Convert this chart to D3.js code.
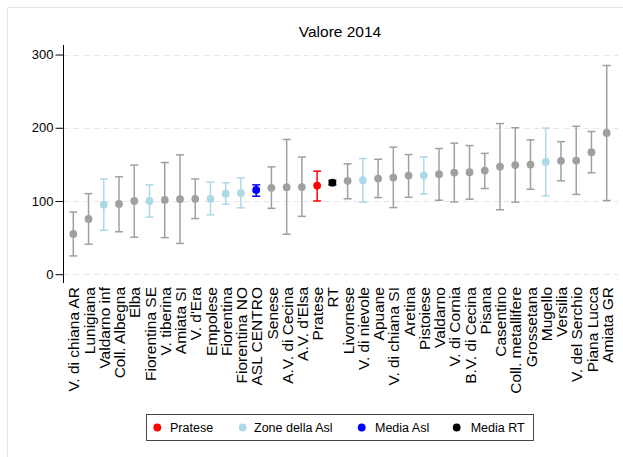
<!DOCTYPE html>
<html>
<head>
<meta charset="utf-8">
<script src="https://cdn.jsdelivr.net/npm/d3@7"></script>
<style>
  html, body { margin: 0; padding: 0; background: #fff; }
  svg { display: block; font-family: "Liberation Sans", Arial, sans-serif; }
</style>
</head>
<body>
<svg id="chart" width="623" height="457"></svg>
<script>
const categories = ["V. di chiana AR","Lunigiana","Valdarno inf","Coll. Albegna","Elba","Fiorentina SE","V. tiberina","Amiata SI","V. d'Era","Empolese","Fiorentina","Fiorentina NO","ASL CENTRO","Senese","A.V. di Cecina","A.V. d'Elsa","Pratese","RT","Livornese","V. di nievole","Apuane","V. di chiana SI","Aretina","Pistoiese","Valdarno","V. di Cornia","B.V. di Cecina","Pisana","Casentino","Coll. metallifere","Grossetana","Mugello","Versilia","V. del Serchio","Piana Lucca","Amiata GR"];
const values = [55,75.5,95,96,100,100,101.5,102.5,103,103,110,111,115,118,118.8,119,121,125,127.5,128.4,130.6,132,134.7,134.7,136.6,138.8,139.3,141.5,147,149,149.7,153.4,154.8,155.2,166.7,193];
const lower  = [25,41,60,58,50.5,78,50,42,76,81,95.6,90.6,106.5,90,54.6,79,100,122,103,98.4,104.6,91,105,109.7,101,98.8,102.4,117,88,98.4,116,107,127.5,109,138.4,100.6];
const upper  = [85,110,130,133,149,122,152.5,163,130,125.7,125,131.5,122,146.6,184,160,140.7,128,150.7,158,157,173.5,163.4,160,171.6,179,175.7,165,205.7,200,183.5,199.5,181,202,194.8,285];
const groups = ["zona","zona","asl","zona","zona","asl","zona","zona","zona","asl","asl","asl","mediaAsl","zona","zona","zona","pratese","rt","zona","asl","zona","zona","zona","asl","zona","zona","zona","zona","zona","zona","zona","asl","zona","zona","zona","zona"];
const yTicks = [0,100,200,300];
const legendKeys = ["pratese","asl","mediaAsl","rt"];
const legendLabels = ["Pratese","Zone della Asl","Media Asl","Media RT"];
const title = "Valore 2014";

const colors = {zona:"#a0a0a0", asl:"#add8e6", mediaAsl:"#0000ff", pratese:"#ff0000", rt:"#000000"};

const svg = d3.select("#chart");

// faint outer frame
svg.append("rect").attr("x",7.5).attr("y",7.5).attr("width",640).attr("height",480)
  .attr("fill","none").attr("stroke","#dfe9e9").attr("stroke-width",1);

const x = d3.scalePoint().domain(categories).range([73.3, 606.7]);
const y = d3.scaleLinear().domain([-12, 313]).range([283, 45]);

// gridlines
svg.append("g").selectAll("line").data(yTicks).join("line")
  .attr("x1",63.5).attr("x2",618).attr("y1",d=>Math.round(y(d))+0.5).attr("y2",d=>Math.round(y(d))+0.5)
  .attr("stroke","#e6e6e6").attr("stroke-width",1).attr("stroke-dasharray","6,4");

// y axis
const yAxis = d3.axisLeft(y).tickValues(yTicks).tickSize(8).tickPadding(2);
const gy = svg.append("g").attr("transform","translate(63.5,0)").call(yAxis);
gy.select(".domain").attr("d", "M0,45V283").attr("stroke","#000");
gy.selectAll(".tick line").attr("stroke","#000");
gy.selectAll(".tick text").attr("font-size","13px").attr("fill","#000").attr("font-family","Liberation Sans, Arial, sans-serif");

// x labels
const xAxis = d3.axisBottom(x).tickSize(0).tickPadding(0);
const gx = svg.append("g").attr("transform","translate(0,285)").call(xAxis);
gx.select(".domain").remove();
gx.selectAll(".tick text")
  .attr("transform","rotate(-90)")
  .attr("text-anchor","end")
  .attr("x",-2).attr("y",0).attr("dy","0.36em")
  .attr("font-size","15.5px").attr("fill","#000")
  .attr("font-family","Liberation Sans, Arial, sans-serif");

// error bars
const data = categories.map((c,i)=>({c, v:values[i], lo:lower[i], hi:upper[i], g:groups[i]}));
const eb = svg.append("g").selectAll("g").data(data).join("g");
eb.append("line").attr("x1",d=>x(d.c)).attr("x2",d=>x(d.c))
  .attr("y1",d=>y(d.lo)).attr("y2",d=>y(d.hi))
  .attr("stroke",d=>colors[d.g]).attr("stroke-width",1.5);
eb.append("line").attr("x1",d=>x(d.c)-4).attr("x2",d=>x(d.c)+4)
  .attr("y1",d=>y(d.lo)).attr("y2",d=>y(d.lo))
  .attr("stroke",d=>colors[d.g]).attr("stroke-width",1.5);
eb.append("line").attr("x1",d=>x(d.c)-4).attr("x2",d=>x(d.c)+4)
  .attr("y1",d=>y(d.hi)).attr("y2",d=>y(d.hi))
  .attr("stroke",d=>colors[d.g]).attr("stroke-width",1.5);
eb.append("circle").attr("cx",d=>x(d.c)).attr("cy",d=>y(d.v)).attr("r",3.9)
  .attr("fill",d=>colors[d.g]);

// title
svg.append("text").attr("x",340).attr("y",37).attr("text-anchor","middle")
  .attr("font-size","15.5px").attr("fill","#000").text(title);

// legend
const lg = svg.append("g");
lg.append("rect").attr("x",146.5).attr("y",414.5).attr("width",387).attr("height",26)
  .attr("fill","#fff").attr("stroke","#444").attr("stroke-width",1);
const dotX = [157.3, 242.7, 361.7, 456.7];
const txtX = [170, 254, 375, 470.7];
legendKeys.forEach((k,i)=>{
  lg.append("circle").attr("cx",dotX[i]).attr("cy",427.5).attr("r",3.9).attr("fill",colors[k]);
  lg.append("text").attr("x",txtX[i]).attr("y",432).attr("font-size","12.5px").attr("fill","#000").text(legendLabels[i]);
});
</script>
</body>
</html>
